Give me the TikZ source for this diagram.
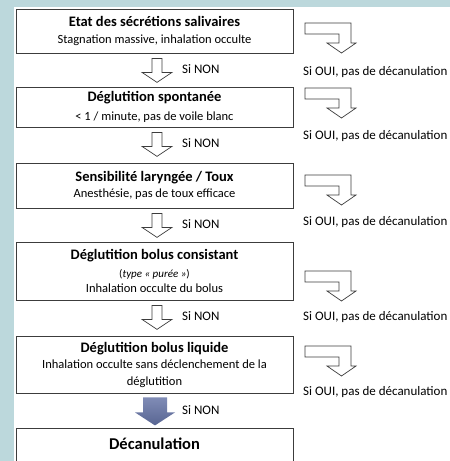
\documentclass[tikz,border=0pt]{standalone}
\usepackage{fontspec}
\setmainfont{Carlito}
\usetikzlibrary{calc,positioning}

\definecolor{bgblue}{RGB}{188,216,220}
\definecolor{slate}{RGB}{88,101,146}
\definecolor{slatelight}{RGB}{128,140,182}
\definecolor{ink}{RGB}{60,60,60}

\newcommand{\titlef}{\fontsize{14.5}{17}\selectfont\bfseries}

\tikzstyle{box} = [rectangle, draw=ink, line width=0.8pt, minimum width=277pt, align=center, inner sep=2pt, font=\fontsize{12.5}{15.5}\selectfont]
\tikzstyle{hollow} = [draw=ink, line width=0.7pt, fill=white, line join=miter]
\tikzstyle{lbl} = [anchor=west, inner sep=0pt, font=\fontsize{13}{15}\selectfont]

\begin{document}
\begin{tikzpicture}[x=1pt, y=-1pt]
  \useasboundingbox (0,0) rectangle (450,461);
  \clip (0,0) rectangle (450,461);
  \fill[bgblue] (0,0) rectangle (450,461);
  \fill[white] (14,7) rectangle (450,461);

  \node[box, minimum height=44pt] (sec) at (154.5,31)
    {{\titlef Etat des sécrétions salivaires}\\[2pt] Stagnation massive, inhalation occulte};
  \node[box, minimum height=40pt] (deg) at (154.5,107)
    {{\titlef Déglutition spontanée}\\[4pt] < 1 / minute, pas de voile blanc};
  \node[box, minimum height=45pt] (sens) at (154.5,185.5)
    {{\titlef Sensibilité laryngée / Toux}\\[1pt] Anesthésie, pas de toux efficace};
  \node[box, minimum height=58pt] (bol) at (154.5,271)
    {{\titlef Déglutition bolus consistant}\\[2pt]
     {\fontsize{11}{13}\selectfont (\textit{type « purée »})}\\
     Inhalation occulte du bolus};
  \node[box, minimum height=57pt] (liq) at (154.5,364.5)
    {{\titlef Déglutition bolus liquide}\\[1pt]
     Inhalation occulte sans déclenchement de la\\[1pt] déglutition};
  \node[box, anchor=north, inner ysep=9pt, text depth=20pt] (dec) at (154.5,428)
    {\fontsize{16.5}{19}\selectfont\bfseries Décanulation};

  % vers le bas : si non
  \foreach \a/\b [count=\i] in {sec/deg, deg/sens, sens/bol, bol/liq} {
    \draw[hollow] ([xshift=-2.5pt, yshift=-5pt]\a.south) -- ++(10,0) -- ++(0,14)
      -- ++(10,0) -- ++(-15,10) -- ++(-15,-10) -- ++(10,0) -- cycle;
    \node[lbl] (n\i) at ([xshift=27.5pt, yshift=-16pt]\a.south) {Si NON};
  }
  \shade[top color=slatelight, bottom color=slate] ([xshift=-11.5pt, yshift=-4pt]liq.south)
    -- ++(24,0) -- ++(0,15) -- ++(8,0) -- ++(-20,13) -- ++(-20,-13) -- ++(8,0) -- cycle;
  \node[lbl] (n5) at ([xshift=27.5pt, yshift=-17pt]liq.south) {Si NON};

  % a droite : si oui
  \foreach \t in {23,88,175,271,346}
    \draw[hollow] (305,\t) -- ++(46,0) -- ++(0,20) -- ++(5,0) -- ++(-14.5,10)
      -- ++(-14.5,-10) -- ++(12,0) -- ++(0,-9) -- ++(-34,0) -- cycle;
  \foreach \y [count=\i] in {72,136,222,317,392}
    \node[lbl] (o\i) at (303,\y) {Si OUI, pas de décanulation};
\end{tikzpicture}
\end{document}
